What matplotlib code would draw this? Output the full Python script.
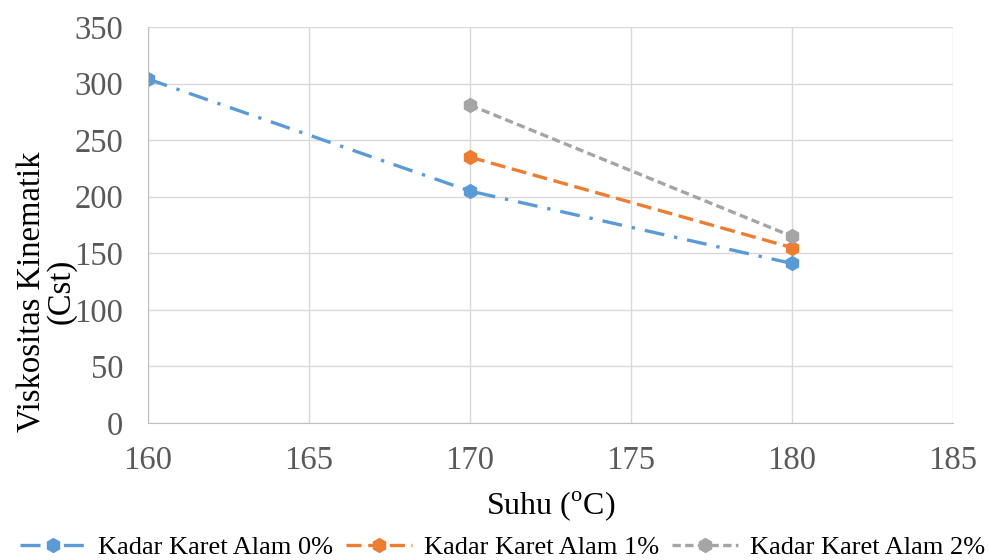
import matplotlib
matplotlib.use("Agg")
import matplotlib.pyplot as plt

plt.rcParams['font.family'] = ['Liberation Serif', 'DejaVu Serif']
plt.rcParams['mathtext.fontset'] = 'custom'
plt.rcParams['mathtext.rm'] = 'Liberation Serif'

suhu_0 = [160, 170, 180]
visk_0 = [304, 205, 141]
suhu_1 = [170, 180]
visk_1 = [235, 155]
suhu_2 = [170, 180]
visk_2 = [281, 165]
labels = ['Kadar Karet Alam 0%', 'Kadar Karet Alam 1%', 'Kadar Karet Alam 2%']

fig = plt.figure(figsize=(9.89, 5.60), dpi=100)
ax = fig.add_axes([0.1497, 0.2446, 0.8139, 0.7072])

ax.plot(suhu_0, visk_0, color='#5B9BD5', lw=2.4, ls=(0, (6, 3, 1, 3)), marker='h', ms=10, label=labels[0])
ax.plot(suhu_1, visk_1, color='#ED7D31', lw=2.4, ls=(0, (4.5, 2)), marker='h', ms=10, label=labels[1])
ax.plot(suhu_2, visk_2, color='#A5A5A5', lw=2.4, ls=(0, (2.5, 1.3)), marker='h', ms=10, label=labels[2])

ax.set_xlim(160, 185)
ax.set_ylim(0, 350)
ax.set_xticks(range(160, 186, 5))
ax.set_yticks(range(0, 351, 50))
ax.grid(True, color='#D9D9D9', lw=1)
ax.set_axisbelow(True)
for s in ['top', 'right']:
    ax.spines[s].set_visible(False)
for s in ['left', 'bottom']:
    ax.spines[s].set_color('#BFBFBF')
ax.tick_params(length=0, labelsize=23.5, labelcolor='#595959')
ax.tick_params(axis='y', pad=18)
ax.tick_params(axis='x', pad=16)

ax.set_xlabel('Suhu ($^{\\mathrm{o}}$C)', fontsize=23, labelpad=10)
# y label sits low and overlaps the tick labels, as in the original
fig.text(0.0475, 0.479, 'Viskositas Kinematik\n(Cst)', fontsize=23.5, rotation=90,
         ha='center', va='center', multialignment='center', linespacing=0.95)

ax.legend(loc='center', bbox_to_anchor=(0.508, 0.023), bbox_transform=fig.transFigure,
          ncol=3, frameon=False, fontsize=19, handlelength=2.5, columnspacing=0.5,
          handletextpad=0.45, borderaxespad=0, borderpad=0)

fig.savefig('out.png', dpi=100)
